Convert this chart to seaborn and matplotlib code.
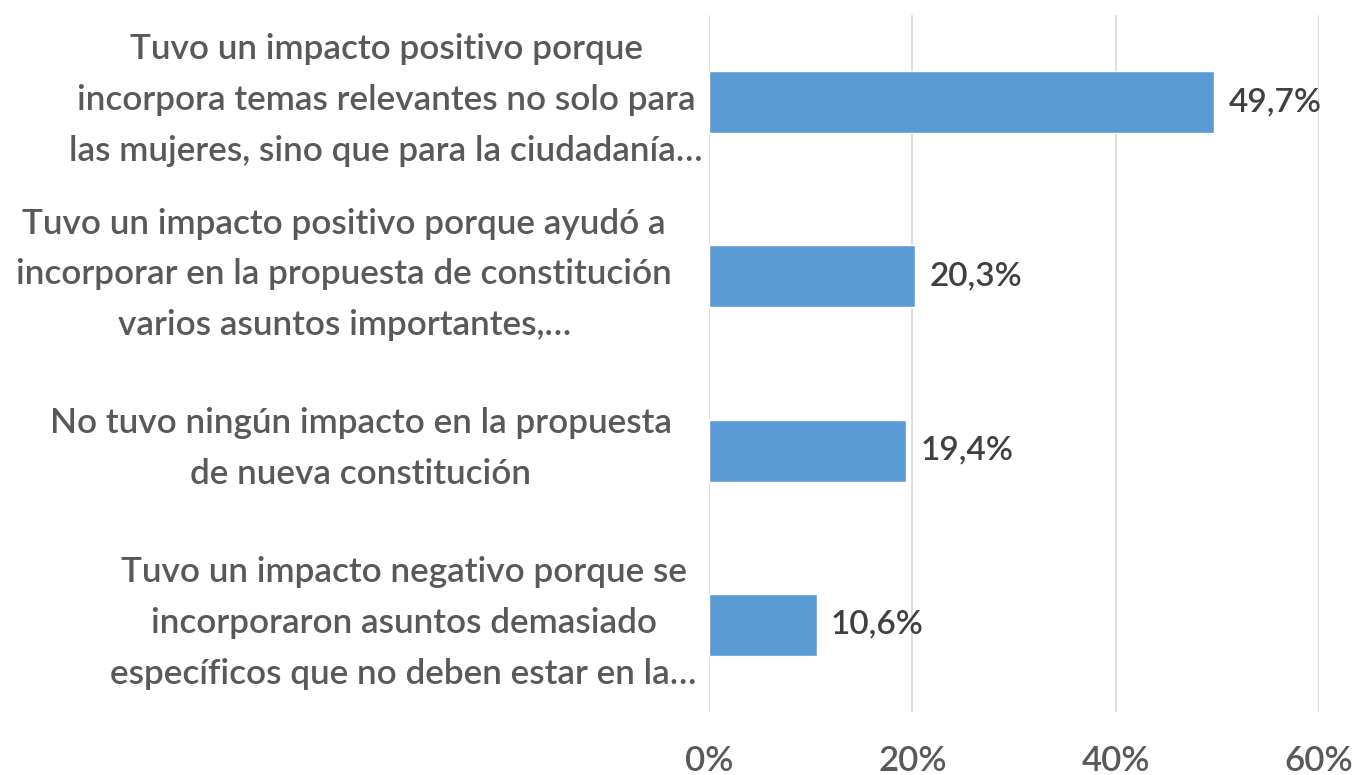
import matplotlib
matplotlib.use("Agg")
import matplotlib.pyplot as plt
import seaborn as sns
import pandas as pd

categories = [
    "Tuvo un impacto positivo porque\nincorpora temas relevantes no solo para\nlas mujeres, sino que para la ciudadanía…",
    "Tuvo un impacto positivo porque ayudó a\nincorporar en la propuesta de constitución\nvarios asuntos importantes,…",
    "No tuvo ningún impacto en la propuesta\nde nueva constitución",
    "Tuvo un impacto negativo porque se\nincorporaron asuntos demasiado\nespecíficos que no deben estar en la…",
]
values = [49.7, 20.3, 19.4, 10.6]
value_labels = ["49,7%", "20,3%", "19,4%", "10,6%"]
xticks = [0, 20, 40, 60]
xtick_labels = ["0%", "20%", "40%", "60%"]

# gap (pixels) between each category label's right edge and the axis
label_gaps = [6, 37, 37, 12]

sns.set_theme(style="white")
plt.rcParams['font.family'] = ['Lato', 'DejaVu Sans']

df = pd.DataFrame({"cat": categories, "val": values})

fig = plt.figure(figsize=(13.54, 7.75), dpi=100)
ax = fig.add_axes([709/1354, 1-712/775, 610/1354, 697/775])

sns.barplot(data=df, x="val", y="cat", orient="h", color="#5B9BD5",
            width=0.355, saturation=1, ax=ax, zorder=3)

ax.set_xlim(0, 60)
ax.set_ylim(3.5, -0.5)
ax.set_xticks(xticks)
ax.set_xticklabels(xtick_labels, fontsize=25, color="#595959", fontweight="semibold")
ax.tick_params(axis="x", length=0, pad=24)
ax.tick_params(axis="y", length=0)
ax.set_yticklabels([])
ax.set_xlabel("")
ax.set_ylabel("")
ax.xaxis.grid(True, color="#D9D9D9", linewidth=1.2, zorder=0)
ax.yaxis.grid(False)
for s in ax.spines.values():
    s.set_visible(False)

for i, (c, g) in enumerate(zip(categories, label_gaps)):
    ax.annotate(c, xy=(0, i), xycoords=("axes fraction", "data"),
                xytext=(-g, 2), textcoords="offset pixels",
                ha="right", va="center", multialignment="center",
                linespacing=1.72, fontsize=25.3, color="#595959",
                fontweight="semibold", annotation_clip=False)

for i, (v, t) in enumerate(zip(values, value_labels)):
    ax.annotate(t, xy=(v, i), xytext=(14, 0), textcoords="offset pixels",
                va="center", ha="left", fontsize=24, color="#404040",
                fontweight="semibold")

fig.savefig("out.png", dpi=100)
